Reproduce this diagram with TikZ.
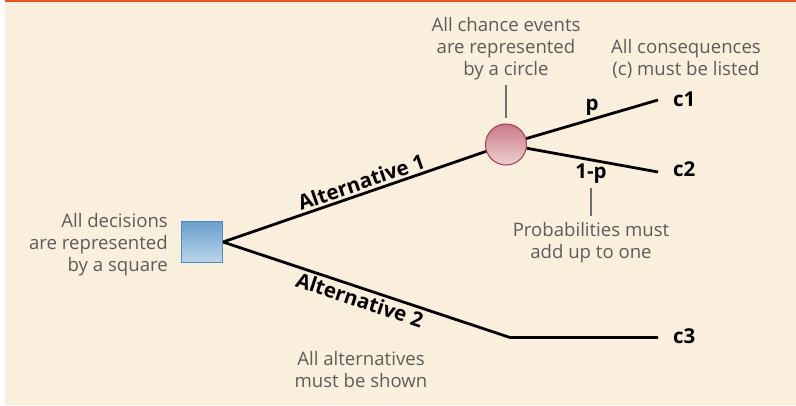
\documentclass[tikz,border=0pt]{standalone}
\usepackage{fontspec}
\setmainfont{Open Sans}
\usetikzlibrary{shapes.geometric}
\definecolor{cream}{HTML}{FAEEDC}
\definecolor{topline}{HTML}{E8541E}
\definecolor{note}{HTML}{5C5C5C}
\definecolor{sqborder}{HTML}{4A8CC4}
\definecolor{sqtop}{HTML}{6A9FCC}
\definecolor{sqbot}{HTML}{BCD6EC}
\definecolor{ciborder}{HTML}{A83A50}
\definecolor{citop}{HTML}{C97A86}
\definecolor{cibot}{HTML}{F0D0D2}
\definecolor{leader}{HTML}{6E6E6E}
\tikzset{
  notetext/.style={text=note, align=center, font=\fontsize{18.6}{22}\selectfont, inner sep=0pt, anchor=base},
  branchlabel/.style={font=\bfseries\fontsize{20.5}{24}\selectfont, text=black, inner sep=2.5pt},
  outcome/.style={font=\bfseries\fontsize{20.5}{24}\selectfont, text=black, inner sep=0pt},
  decision/.style={rectangle, minimum size=41pt, inner sep=0pt, draw=sqborder, line width=1pt, top color=sqtop, bottom color=sqbot},
  chance/.style={circle, minimum size=41pt, inner sep=0pt, draw=ciborder, line width=1pt, top color=citop, bottom color=cibot},
  branch/.style={draw=black, line width=2.8pt},
  leaderline/.style={draw=leader, line width=1.6pt}
}
\begin{document}
\begin{tikzpicture}[x=1pt,y=-1pt]
\useasboundingbox (0,0) rectangle (796,406);
\fill[cream] (5,0) rectangle (796,405);
\fill[topline] (5,0) rectangle (796,2);

\node[decision] (sq) at (202,242) {};
\node[chance] (ci) at (506,144.5) {};

\coordinate (e1) at (658,100);
\coordinate (e2) at (658,172);
\coordinate (k) at (510,337.5);
\coordinate (e3) at (658,337.5);

\draw[branch] (sq.east) -- node[branchlabel, above, sloped, pos=0.54] {Alternative 1} (ci);
\draw[branch] (ci) -- (e1);
\draw[branch] (ci) -- (e2);
\draw[branch, line join=miter] (sq.east) -- node[branchlabel, below, sloped, pos=0.49] {Alternative 2} (k) -- (e3);

\node[outcome, anchor=base west] (c1) at (673,107) {c1};
\node[outcome, anchor=base west] (c2) at (673,177) {c2};
\node[outcome, anchor=base west] (c3) at (673,344) {c3};

\node[outcome, anchor=base] (p) at (592,111) {p};
\node[outcome, anchor=base] (q) at (591,179) {1-p};

\node[notetext] (n1) at (506,76) {All chance events\\are represented\\by a circle};
\node[notetext] (n2) at (686,76) {All consequences\\(c) must be listed};
\node[notetext, align=right, anchor=base east] (n3) at (168,272) {All decisions\\are represented\\by a square};
\node[notetext] (n4) at (591,259) {Probabilities must\\add up to one};
\node[notetext] (n5) at (361,388) {All alternatives\\must be shown};

\coordinate (l1) at (506,85);
\coordinate (l1b) at (506,118);
\draw[leaderline] (l1) -- (l1b);
\coordinate (l2a) at (591,188);
\coordinate (l2b) at (591,216);
\draw[leaderline] (l2a) -- (l2b);
\end{tikzpicture}
\end{document}
